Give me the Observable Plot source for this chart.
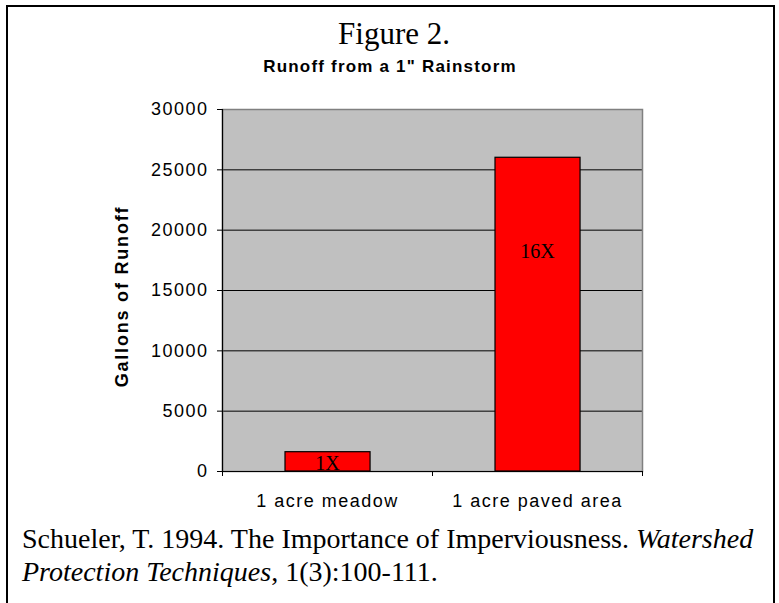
<!DOCTYPE html>
<html>
<head>
<meta charset="utf-8">
<script src="https://cdn.jsdelivr.net/npm/d3@7"></script>
<script src="https://cdn.jsdelivr.net/npm/@observablehq/plot@0.6"></script>
<style>
  html, body { margin: 0; padding: 0; background: #fff; }
  #wrap { position: relative; width: 779px; height: 603px; overflow: hidden; background: #fff; }
  #border { position: absolute; left: 6px; top: 5px; width: 765px; height: 700px;
            border-left: 2px solid #000; border-top: 2px solid #000; border-right: 2px solid #000; }
  #chart { position: absolute; left: 0; top: 0; }
  #title { position: absolute; left: 394px; top: 16px; transform: translateX(-50%);
           font-family: "Liberation Serif", "Times New Roman", serif; font-size: 31px; color: #000; white-space: nowrap; }
  #subtitle { position: absolute; left: 390px; top: 57px; transform: translateX(-50%);
              font-family: "Liberation Sans", Arial, sans-serif; font-size: 17px; font-weight: bold;
              letter-spacing: 1.2px; color: #000; white-space: nowrap; }
  #caption { position: absolute; left: 22px; top: 522px;
             font-family: "Liberation Serif", "Times New Roman", serif; font-size: 28px; line-height: 33px; color: #000; white-space: nowrap; }
  .sp text { letter-spacing: 1.5px; font-size: 18px; }
  .spy text { letter-spacing: 1.8px; font-size: 18px; }
</style>
</head>
<body>
<div id="wrap">
  <div id="border"></div>
  <div id="chart"></div>
  <div id="title">Figure 2.</div>
  <div id="subtitle">Runoff from a 1" Rainstorm</div>
  <div id="caption">Schueler, T. 1994. The Importance of Imperviousness. <i>Watershed</i><br><i>Protection Techniques</i>, 1(3):100-111.</div>
</div>
<script>
const categories = ["1 acre meadow", "1 acre paved area"];
const gallons = [1600, 26000];
const multipliers = ["1X", "16X"];
const labelValues = [650, 18200];
const yTicks = [0, 5000, 10000, 15000, 20000, 25000, 30000];

const data = categories.map((c, i) => ({i, category: c, gallons: gallons[i], mult: multipliers[i], labelAt: labelValues[i]}));

const chart = Plot.plot({
  width: 779,
  height: 520,
  marginLeft: 222,
  marginRight: 137,
  marginTop: 109,
  marginBottom: 49,
  style: { fontFamily: "'Liberation Sans', Arial, sans-serif", fontSize: "18px", color: "#000", background: "transparent" },
  x: { domain: [0, categories.length] },
  y: { domain: [0, 30000] },
  marks: [
    Plot.frame({ fill: "#c0c0c0", stroke: null }),
    Plot.gridY(yTicks, { stroke: "#000", strokeOpacity: 1, strokeWidth: 1 }),
    Plot.frame({ stroke: "#808080", strokeWidth: 1.5 }),
    Plot.rectY(data, { x1: d => d.i + 0.3, x2: d => d.i + 0.705, y1: 0, y2: "gallons", fill: "#ff0000", stroke: "#000", strokeWidth: 1.2 }),
    Plot.text(data, { x: d => d.i + 0.5, y: "labelAt", text: "mult", fontFamily: "'Liberation Serif', 'Times New Roman', serif", fontSize: 20, fill: "#000" }),
    Plot.ruleX([0], { stroke: "#000", strokeWidth: 1.2 }),
    Plot.ruleY([0], { stroke: "#000", strokeWidth: 1.2 }),
    Plot.axisY({ ticks: yTicks, tickSize: 5, tickPadding: 9, label: null, className: "sp", fontSize: 18, tickFormat: d => String(d) }),
    Plot.axisX({ ticks: d3.range(categories.length + 1), tickSize: 5, tickFormat: () => "", label: null }),
    Plot.axisX({ ticks: categories.map((c, i) => i + 0.5), tickSize: 0, tickPadding: 23, label: null, className: "sp", fontSize: 18,
                 tickFormat: v => categories[Math.floor(v)] }),
    Plot.text(["Gallons of Runoff"], { frameAnchor: "left", textAnchor: "middle", rotate: -90, dx: -100, dy: 6, fontWeight: "bold", fontSize: 18, fill: "#000", className: "spy" })
  ]
});
document.getElementById("chart").appendChild(chart);
</script>
</body>
</html>
